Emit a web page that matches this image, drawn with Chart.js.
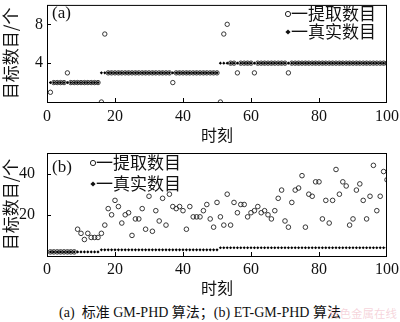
<!DOCTYPE html>
<html>
<head>
<meta charset="utf-8">
<script src="https://cdn.jsdelivr.net/npm/chart.js@4"></script>
<style>
  body { margin: 0; background: #fff; }
  #wrap { position: relative; width: 400px; height: 322px; overflow: hidden; background: #fff; }
  .box { position: absolute; left: 0; width: 400px; }
  #boxA { top: 0; height: 145px; }
  #boxB { top: 145px; height: 153px; }
  #caption {
    position: absolute; left: 0; top: 301px; width: 400px; text-align: center;
    font: 14px "Liberation Serif", "Noto Sans CJK SC", serif; color: #111;
  }
  #mark {
    position: absolute; left: 328px; top: 305px;
    font: 11.5px "Noto Sans CJK SC", sans-serif; color: rgba(235, 160, 175, 0.45);
  }
</style>
</head>
<body>
<div id="wrap">
  <div class="box" id="boxA"><canvas id="chartA"></canvas></div>
  <div class="box" id="boxB"><canvas id="chartB"></canvas></div>
  <div id="caption">(a)&nbsp; 标准 GM-PHD 算法；(b) ET-GM-PHD 算法</div>
  <div id="mark">有色金属在线</div>
</div>
<script>
// time steps 1..100 are the array positions
const xTicks = [0, 20, 40, 60, 80, 100];
const yTicksA = [4, 8];
const yTicksB = [20, 40];

// true number of targets (same scenario in both panels)
const trueCount = [
  2, 2, 2, 2, 2, 2, 2, 2, 2, 2, 2, 2, 2, 2, 2,
  3, 3, 3, 3, 3, 3, 3, 3, 3, 3, 3, 3, 3, 3, 3, 3, 3, 3, 3, 3,
  3, 3, 3, 3, 3, 3, 3, 3, 3, 3, 3, 3, 3, 3, 3,
  4, 4, 4, 4, 4, 4, 4, 4, 4, 4, 4, 4, 4, 4, 4, 4, 4, 4, 4, 4,
  4, 4, 4, 4, 4, 4, 4, 4, 4, 4, 4, 4, 4, 4, 4, 4, 4, 4, 4, 4,
  4, 4, 4, 4, 4, 4, 4, 4, 4, 4
];

// (a) standard GM-PHD extracted count
const extractedA = [
  1, 2, 2, 2, 2, 3, 2, 2, 2, 2, 2, 2, 2, 2, 2,
  0, 7, 3, 3, 3, 3, 3, 3, 3, 3, 3, 3, 3, 3, 3, 3, 3, 3, 3, 3,
  3, 2, 3, 3, 3, 3, 3, 3, 3, 3, 3, 3, 3, 3, 3,
  0, 7, 8, 4, 4, 3, 4, 4, 4, 4, 3, 4, 4, 4, 4, 4, 4, 4, 4, 4,
  3, 4, 4, 4, 4, 4, 4, 4, 4, 4, 4, 4, 4, 4, 4, 4, 4, 4, 4, 4,
  4, 4, 4, 4, 4, 4, 4, 4, 4, 4
];

// (b) ET-GM-PHD extracted count
const extractedB = [
  2, 2, 2, 2, 2, 2, 2, 2, 13, 11, 8, 11, 9, 9, 9,
  11, 15, 23, 20, 27, 24, 16, 20, 21, 10, 18, 18, 23, 13, 29, 12, 22, 17, 28, 15,
  30, 24, 23, 24, 22, 13, 24, 19, 19, 19, 22, 25, 18, 14, 26,
  19, 15, 30, 15, 26, 21, 25, 25, 19, 21, 22, 24, 21, 22, 20, 18, 22, 28, 32, 17,
  14, 26, 32, 33, 39, 14, 30, 29, 36, 36, 18, 27, 16, 27, 42, 30, 36, 34, 15, 18,
  32, 35, 27, 18, 29, 44, 22, 29, 41, 37
];

const labelExtracted = '一提取数目';
const labelTrue = '一真实数目';

const serif = '"Liberation Serif", "Noto Sans CJK SC", serif';
const cjk = '"Noto Sans CJK SC", sans-serif';

function toPoints(arr) {
  return arr.map((v, i) => ({ x: i + 1, y: v }));
}

// no extra room for overhanging tick labels, the plot box is fixed
function noScalePadding(s) {
  s.paddingTop = 0;
  s.paddingBottom = 0;
  s.paddingLeft = 0;
  s.paddingRight = 0;
}

// box around the plot, inward tick marks, panel tag and legend
const framePlugin = {
  id: 'frame',
  afterDraw(chart, args, o) {
    const { ctx, chartArea: a, scales } = chart;
    ctx.save();
    ctx.strokeStyle = '#000';
    ctx.lineWidth = 1;
    ctx.strokeRect(a.left + 0.5, a.top + 0.5, a.right - a.left - 1, a.bottom - a.top);

    ctx.beginPath();
    xTicks.slice(1, -1).forEach(v => {
      const px = Math.round(scales.x.getPixelForValue(v)) + 0.5;
      ctx.moveTo(px, a.bottom);
      ctx.lineTo(px, a.bottom - 4);
    });
    o.yTicks.forEach(v => {
      const py = Math.round(scales.y.getPixelForValue(v)) + 0.5;
      ctx.moveTo(a.left, py);
      ctx.lineTo(a.left + 4, py);
    });
    ctx.stroke();

    ctx.fillStyle = '#111';
    ctx.textBaseline = 'middle';
    ctx.font = '17px ' + serif;
    ctx.fillText(o.tag, a.left + 5, o.tagY);

    // legend
    const lx = o.legendX, ly = o.legendY;
    ctx.lineWidth = 1;
    ctx.strokeStyle = '#222';
    ctx.beginPath();
    ctx.arc(lx, ly, 2.6, 0, Math.PI * 2);
    ctx.stroke();
    ctx.beginPath();
    const dy = ly + o.legendGap;
    ctx.moveTo(lx, dy - 2.6);
    ctx.lineTo(lx + 2.6, dy);
    ctx.lineTo(lx, dy + 2.6);
    ctx.lineTo(lx - 2.6, dy);
    ctx.closePath();
    ctx.fill();
    ctx.font = '17px ' + cjk;
    ctx.fillText(labelExtracted, lx + 3, ly);
    ctx.fillText(labelTrue, lx + 3, dy);
    ctx.restore();
  }
};

function makeChart(id, extracted, yMax, yTicks, cfg) {
  return new Chart(document.getElementById(id), {
    type: 'scatter',
    data: {
      datasets: [
        {
          label: labelExtracted,
          data: toPoints(extracted),
          pointStyle: 'circle',
          pointRadius: cfg.circleR,
          borderWidth: 0.9,
          borderColor: '#222',
          backgroundColor: 'rgba(0,0,0,0)'
        },
        {
          label: labelTrue,
          data: toPoints(trueCount),
          pointStyle: 'rectRot',
          pointRadius: 1.6,
          borderWidth: 0,
          backgroundColor: '#000'
        }
      ]
    },
    options: {
      responsive: true,
      maintainAspectRatio: false,
      animation: false,
      events: [],
      layout: { padding: cfg.padding },
      scales: {
        x: {
          type: 'linear',
          min: 0,
          max: 100,
          afterBuildTicks: s => { s.ticks = xTicks.map(v => ({ value: v })); },
          afterFit: s => { s.height = cfg.xHeight; noScalePadding(s); },
          grid: { display: false, drawTicks: false },
          border: { display: false },
          ticks: { padding: cfg.xPad, color: '#111', maxRotation: 0, font: { family: serif, size: 16 } },
          title: { display: true, text: '时刻', color: '#111', padding: 0, font: { family: cjk, size: 16 } }
        },
        y: {
          min: 0,
          max: yMax,
          afterBuildTicks: s => { s.ticks = yTicks.map(v => ({ value: v })); },
          afterFit: s => { s.width = 47; noScalePadding(s); },
          grid: { display: false, drawTicks: false },
          border: { display: false },
          ticks: { padding: cfg.yPad, color: '#111', font: { family: serif, size: 16 } },
          title: { display: true, text: '目标数目/个', color: '#111', padding: 0, font: { family: cjk, size: 17 } }
        }
      },
      plugins: {
        legend: { display: false },
        tooltip: { enabled: false },
        frame: {
          yTicks: yTicks,
          tag: cfg.tag,
          tagY: cfg.tagY,
          legendX: cfg.legendX,
          legendY: cfg.legendY,
          legendGap: cfg.legendGap
        }
      }
    },
    plugins: [framePlugin]
  });
}

makeChart('chartA', extractedA, 10, yTicksA, {
  padding: { top: 1, right: 13, left: 0, bottom: 0 },
  xHeight: 43, xPad: 5, yPad: 4, circleR: 2.2,
  tag: '(a)', tagY: 14,
  legendX: 288, legendY: 14, legendGap: 18
});

makeChart('chartB', extractedB, 50, yTicksB, {
  padding: { top: 8, right: 13, left: 0, bottom: 0 },
  xHeight: 42, xPad: 4, yPad: 12, circleR: 2.3,
  tag: '(b)', tagY: 23,
  legendX: 93, legendY: 18, legendGap: 21
});
</script>
</body>
</html>
